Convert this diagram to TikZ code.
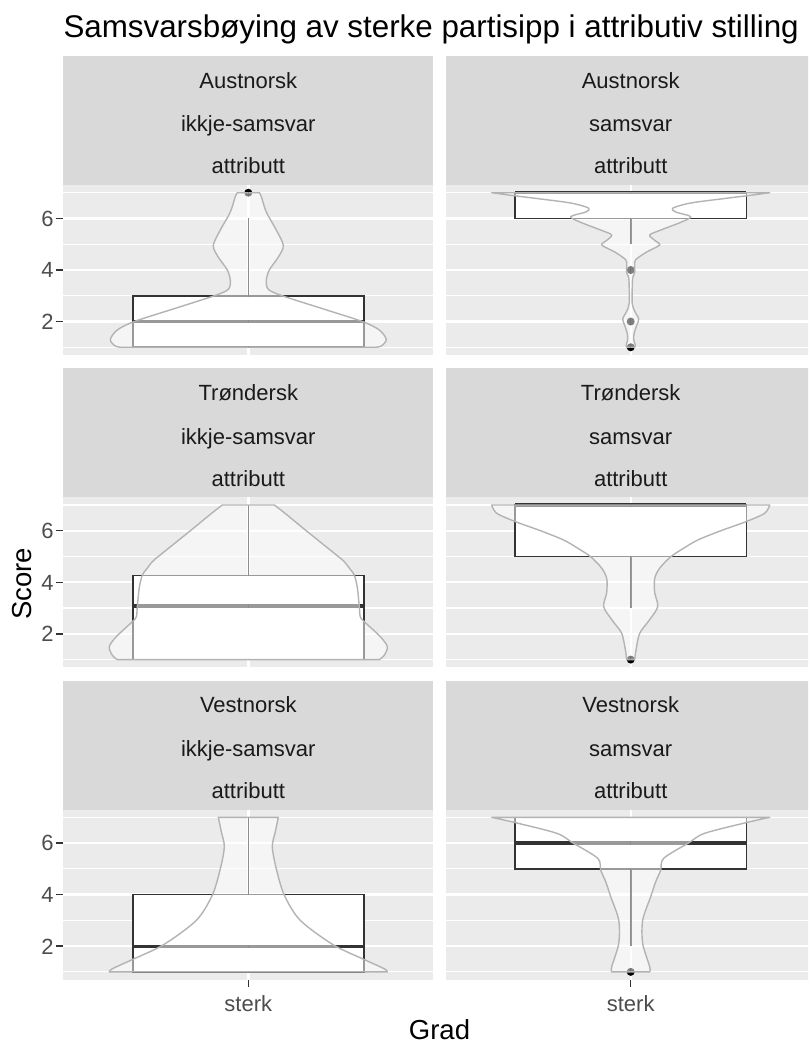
\documentclass[tikz,border=0pt]{standalone}
\usepackage{fontspec}
\setmainfont{Liberation Sans}
\definecolor{cPanel}{HTML}{EBEBEB}
\definecolor{cStrip}{HTML}{D9D9D9}
\definecolor{cStripTxt}{HTML}{1A1A1A}
\definecolor{cTickTxt}{HTML}{4D4D4D}
\definecolor{cTick}{HTML}{333333}
\definecolor{cBox}{HTML}{333333}
\definecolor{cViolin}{HTML}{B3B3B3}
\tikzset{
  pbgst/.style={fill=cPanel},
  stripst/.style={fill=cStrip},
  gridmajor/.style={draw=white, line width=2.4pt},
  gridminor/.style={draw=white, line width=1.2pt},
  boxst/.style={fill=white, draw=cBox, line width=1.6pt},
  whisk/.style={draw=cBox, line width=1.6pt},
  medst/.style={draw=cBox, line width=3.2pt},
  outl/.style={fill=black},
  vfill/.style={fill=white, fill opacity=0.5},
  vline/.style={draw=cViolin, line width=1.4pt, line join=round},
  tickst/.style={draw=cTick, line width=1.4pt},
  striptxt/.style={text=cStripTxt, font=\fontsize{22}{26}\selectfont, inner sep=0pt, anchor=base},
  ticklab/.style={text=cTickTxt, font=\fontsize{22}{26}\selectfont, inner sep=0pt},
  axtitle/.style={font=\fontsize{27.5}{32}\selectfont, inner sep=0pt, anchor=base},
}
% strip: name, centre x, top y, line1, line2
\newcommand\mkstrip[5]{%
  \fill[stripst] (#2-185,#3) rectangle (#2+185,#3+129);
  \node[striptxt] (#1a) at (#2,#3+32.3) {#4};
  \node[striptxt] (#1b) at (#2,#3+75.7) {#5};
  \node[striptxt] (#1c) at (#2,#3+118) {attributt};}
% panel background and grid (inside data scope)
\newcommand\panelbase{%
  \fill[pbgst] (-185,0.7) rectangle (185,7.3);
  \foreach \v in {1,3,5,7} {\draw[gridminor] (-185,\v) -- (185,\v);}
  \foreach \v in {2,4,6} {\draw[gridmajor] (-185,\v) -- (185,\v);}
  \draw[gridmajor] (0,0.7) -- (0,7.3);}
% y ticks (inside data scope)
\newcommand\yticks[1]{%
  \foreach \v in {2,4,6} {%
    \draw[tickst] (-191.9,\v) -- (-185,\v);
    \node[ticklab, anchor=base east, yshift=-7.9pt] (#1\v) at (-194.5,\v) {\v};}}
% boxplot: q1, median, q3, whisker low, whisker high
\newcommand\bplot[5]{%
  \draw[whisk] (0,#4) -- (0,#1);
  \draw[whisk] (0,#3) -- (0,#5);
  \filldraw[boxst] (-115.6,#1) rectangle (115.6,#3);
  \draw[medst] (-115.6,#2) -- (115.6,#2);}
% violin half and full
\newcommand\vhalf[3]{%
  \fill[vfill] (0,#2) -- plot[smooth, tension=0.5] coordinates {#1} -- (0,#3) -- cycle;
  \draw[vline] (0,#2) -- plot[smooth, tension=0.5] coordinates {#1} -- (0,#3);}
\newcommand\violin[3]{\vhalf{#1}{#2}{#3}\begin{scope}[xscale=-1]\vhalf{#1}{#2}{#3}\end{scope}}
\newcommand\outlier[1]{\fill[outl] (0,#1) circle (4pt);}

\begin{document}
\begin{tikzpicture}[x=1pt,y=-1pt]
\path[use as bounding box] (0,0) rectangle (808,1043);
\clip (0,0) rectangle (808,1043);
\fill[white] (0,0) rectangle (808,1043);

\node[anchor=base west, inner sep=0pt, font=\fontsize{31.35}{36}\selectfont] (title) at (63.3,37.3)
  {Samsvarsbøying av sterke partisipp i attributiv stilling};

% strips
\mkstrip{sA}{248.3}{56}{Austnorsk}{ikkje-samsvar}
\mkstrip{sB}{630.7}{56}{Austnorsk}{samsvar}
\mkstrip{sC}{248.3}{368.3}{Trøndersk}{ikkje-samsvar}
\mkstrip{sD}{630.7}{368.3}{Trøndersk}{samsvar}
\mkstrip{sE}{248.3}{680.6}{Vestnorsk}{ikkje-samsvar}
\mkstrip{sF}{630.7}{680.6}{Vestnorsk}{samsvar}

% Panel Austnorsk ikkje-samsvar
\begin{scope}[shift={(248.3,373.03)}, y=25.76pt]
  \panelbase \yticks{ya}
  \bplot{1}{2}{3}{1}{6}
  \outlier{7}
  \violin{(11,7) (13,6.85) (18,6.25) (28,5.55) (35,4.95) (30,4.5) (21,4.0) (18,3.6) (20,3.25) (34,3.0) (74,2.5) (114,2.0) (131,1.67) (138,1.3) (133,1.05) (127,1.0)}{7}{1}
\end{scope}
% Panel Austnorsk samsvar
\begin{scope}[shift={(630.7,373.03)}, y=25.76pt]
  \panelbase
  \bplot{6}{7}{7}{5}{7}
  \outlier{4} \outlier{2} \outlier{1}
  \violin{(139,7) (120,6.9) (95,6.78) (60,6.6) (42,6.4) (45,6.25) (60,6.07) (50,5.85) (30,5.55) (19,5.36) (24,5.15) (29,4.97) (16,4.7) (5,4.4) (4,4.2) (4,3.9) (2,3.7) (1.5,3.3) (1.5,2.7) (4,2.4) (8,2.1) (6,1.85) (3.5,1.55) (3,1.3) (4.5,1.1) (4,1.0)}{7}{1}
\end{scope}
% Panel Trondersk ikkje-samsvar
\begin{scope}[shift={(248.3,685.33)}, y=25.76pt]
  \panelbase \yticks{yb}
  \bplot{1}{3.08}{4.27}{1}{7}
  \violin{(26,7) (36,6.7) (58,6.0) (74,5.5) (90,5.0) (96,4.8) (102,4.5) (106,4.28) (109,3.8) (111,3.05) (112,2.66) (116,2.47) (132,1.89) (139,1.5) (136,1.17) (131,1.0)}{7}{1}
\end{scope}
% Panel Trondersk samsvar
\begin{scope}[shift={(630.7,685.33)}, y=25.76pt]
  \panelbase
  \bplot{5}{7}{7}{3}{7}
  \outlier{1}
  \violin{(139,7) (134,6.68) (115,6.35) (90,6.0) (67,5.64) (52,5.3) (40,4.99) (29,4.55) (24,4.15) (24,3.6) (27,3.05) (18,2.5) (9,2.02) (5.3,1.37) (4,1.0)}{7}{1}
\end{scope}
% Panel Vestnorsk ikkje-samsvar
\begin{scope}[shift={(248.3,997.63)}, y=25.76pt]
  \panelbase \yticks{yc}
  \bplot{1}{2}{4}{1}{7}
  \violin{(30,7) (27,6.44) (24,5.86) (28,5.0) (36,3.98) (52,3.0) (85,2.05) (117,1.46) (136,1.12) (139,1.0)}{7}{1}
\end{scope}
% Panel Vestnorsk samsvar
\begin{scope}[shift={(630.7,997.63)}, y=25.76pt]
  \panelbase
  \bplot{5}{6}{7}{2}{7}
  \outlier{1}
  \violin{(139,7) (115,6.79) (74,6.38) (58,6.01) (33,5.41) (30,4.95) (25,4.5) (20,3.92) (12,3.01) (12,2.1) (19,1.2) (19,1.0)}{7}{1}
\end{scope}

% x ticks and labels
\draw[tickst] (248.3,979.6) -- (248.3,986.5);
\draw[tickst] (630.7,979.6) -- (630.7,986.5);
\node[ticklab, anchor=base] (xl1) at (248.3,1011) {sterk};
\node[ticklab, anchor=base] (xl2) at (630.7,1011) {sterk};

% axis titles
\node[axtitle] (xt) at (439.5,1039) {Grad};
\node[axtitle, rotate=90] (yt) at (31.7,584) {Score};
\end{tikzpicture}
\end{document}
